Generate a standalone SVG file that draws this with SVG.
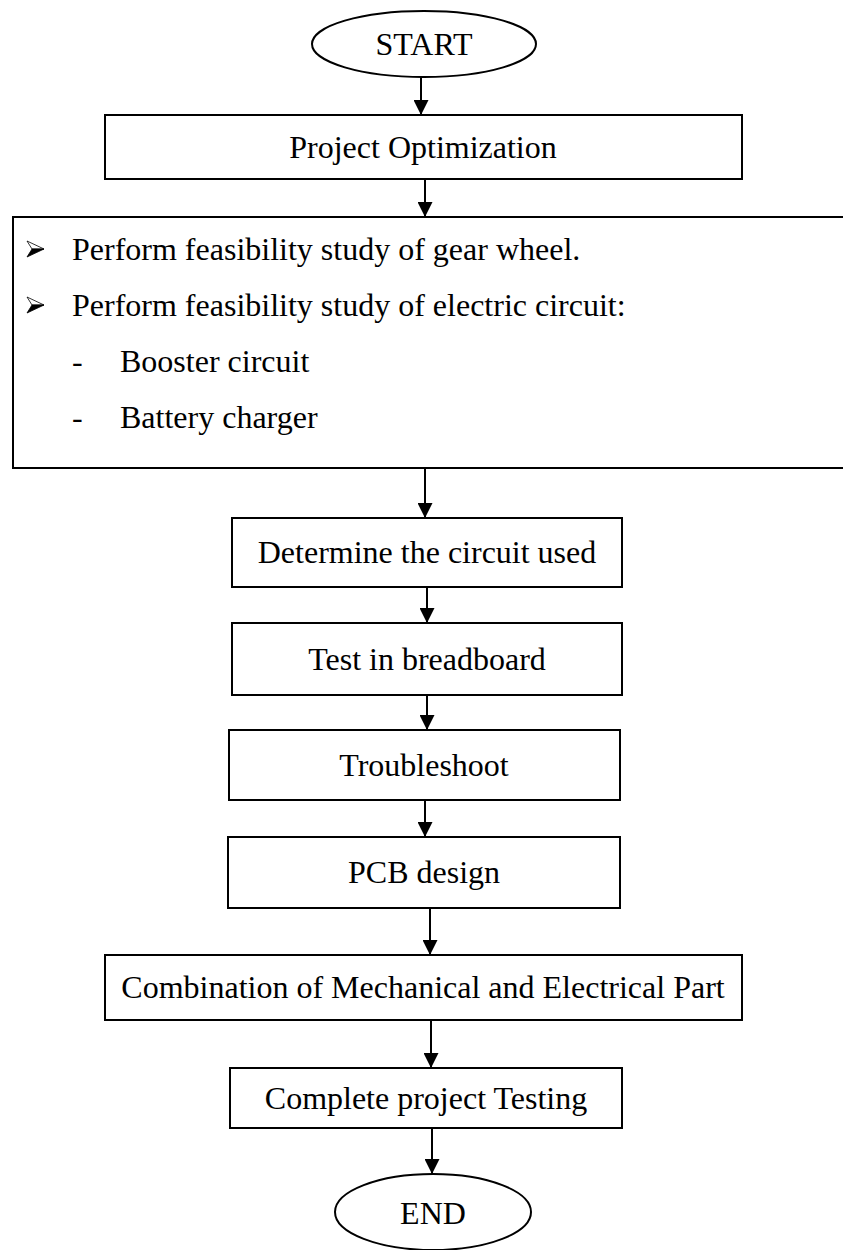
<svg xmlns="http://www.w3.org/2000/svg" width="843" height="1250" viewBox="0 0 843 1250">
<style>
.box{fill:#fff;stroke:#000;stroke-width:2}
.t{font-family:"Liberation Serif","Times New Roman",serif;font-size:32px;fill:#000}
.c{text-anchor:middle}
.ln{stroke:#000;stroke-width:2;fill:none}
.bu{fill:#fff;stroke:#000;stroke-width:0.8;stroke-linejoin:round}
.bd{fill:#000;stroke:#000;stroke-width:0.8;stroke-linejoin:round}
</style>
<defs>
<marker id="ah" viewBox="0 0 10 10" refX="10" refY="5" markerWidth="7.5" markerHeight="7.5" markerUnits="strokeWidth" orient="auto">
<path d="M0,0 L10,5 L0,10 z" fill="#000"/>
</marker>
<g id="bullet">
<path class="bu" d="M0,-8 L17,0 L5,0 z"/>
<path class="bd" d="M5,0 L17,0 L0,8 z"/>
</g>
</defs>
<rect width="843" height="1250" fill="#fff"/>
<g id="connectors">
<line class="ln" x1="421" y1="77" x2="421" y2="115" marker-end="url(#ah)"/>
<line class="ln" x1="425" y1="179" x2="425" y2="217" marker-end="url(#ah)"/>
<line class="ln" x1="425" y1="468" x2="425" y2="518" marker-end="url(#ah)"/>
<line class="ln" x1="427" y1="587" x2="427" y2="623" marker-end="url(#ah)"/>
<line class="ln" x1="427" y1="695" x2="427" y2="730" marker-end="url(#ah)"/>
<line class="ln" x1="425" y1="800" x2="425" y2="837" marker-end="url(#ah)"/>
<line class="ln" x1="430" y1="908" x2="430" y2="955" marker-end="url(#ah)"/>
<line class="ln" x1="431" y1="1020" x2="431" y2="1068" marker-end="url(#ah)"/>
<line class="ln" x1="432" y1="1128" x2="432" y2="1174" marker-end="url(#ah)"/>
</g>
<g id="start">
<ellipse class="box" cx="424" cy="44" rx="112" ry="33"/>
<text class="t c" x="424" y="55">START</text>
</g>
<g id="project-optimization">
<rect class="box" x="105" y="115" width="637" height="64"/>
<text class="t c" x="423" y="158">Project Optimization</text>
</g>
<g id="feasibility">
<rect class="box" x="13" y="217" width="840" height="251"/>
<use href="#bullet" x="27" y="249"/>
<use href="#bullet" x="27" y="305"/>
<text class="t" x="72" y="260">Perform feasibility study of gear wheel.</text>
<text class="t" x="72" y="316">Perform feasibility study of electric circuit:</text>
<text class="t" x="72" y="372">-</text>
<text class="t" x="120" y="372">Booster circuit</text>
<text class="t" x="72" y="428">-</text>
<text class="t" x="120" y="428">Battery charger</text>
</g>
<g id="determine">
<rect class="box" x="232" y="518" width="390" height="69"/>
<text class="t c" x="427" y="563">Determine the circuit used</text>
</g>
<g id="test">
<rect class="box" x="232" y="623" width="390" height="72"/>
<text class="t c" x="427" y="670">Test in breadboard</text>
</g>
<g id="troubleshoot">
<rect class="box" x="229" y="730" width="391" height="70"/>
<text class="t c" x="424" y="776">Troubleshoot</text>
</g>
<g id="pcb">
<rect class="box" x="228" y="837" width="392" height="71"/>
<text class="t c" x="424" y="883">PCB design</text>
</g>
<g id="combination">
<rect class="box" x="105" y="955" width="637" height="65"/>
<text class="t c" x="423" y="998">Combination of Mechanical and Electrical Part</text>
</g>
<g id="complete">
<rect class="box" x="230" y="1068" width="392" height="60"/>
<text class="t c" x="426" y="1109">Complete project Testing</text>
</g>
<g id="end">
<ellipse class="box" cx="433" cy="1212" rx="98" ry="38"/>
<text class="t c" x="433" y="1224">END</text>
</g>
</svg>
